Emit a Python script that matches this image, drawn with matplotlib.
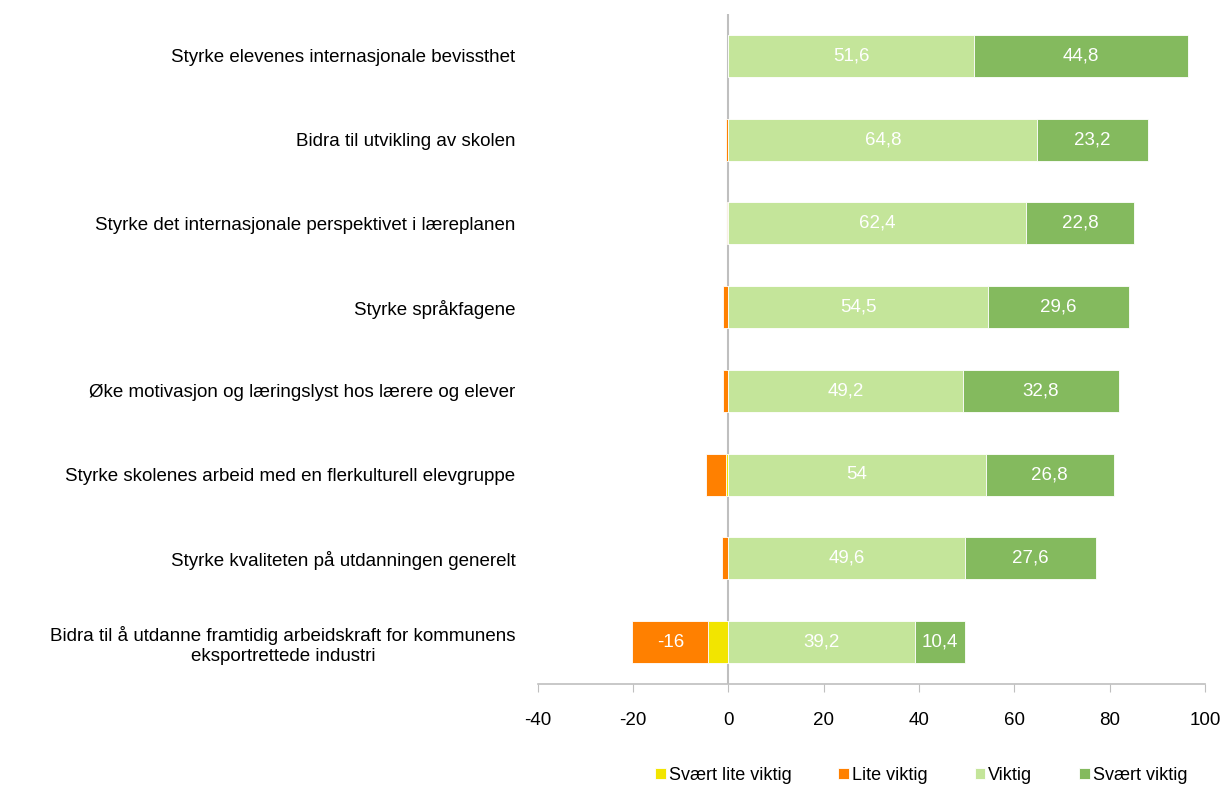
import matplotlib.pyplot as plt
import numpy as np

plt.rcParams['font.family'] = ['Liberation Sans', 'DejaVu Sans']
plt.rcParams['axes.unicode_minus'] = False

categories = [
    'Styrke elevenes internasjonale bevissthet',
    'Bidra til utvikling av skolen',
    'Styrke det internasjonale perspektivet i læreplanen',
    'Styrke språkfagene',
    'Øke motivasjon og læringslyst hos lærere og elever',
    'Styrke skolenes arbeid med en flerkulturell elevgruppe',
    'Styrke kvaliteten på utdanningen generelt',
    'Bidra til å utdanne framtidig arbeidskraft for kommunens\neksportrettede industri',
]
svaert_lite = [0, 0, 0, 0, 0, -0.6, 0, -4.2]
lite = [0, -0.6, -0.4, -1.2, -1.2, -4.0, -1.4, -16]
viktig = [51.6, 64.8, 62.4, 54.5, 49.2, 54, 49.6, 39.2]
svaert = [44.8, 23.2, 22.8, 29.6, 32.8, 26.8, 27.6, 10.4]

c_yellow = '#F2E500'
c_orange = '#FF8000'
c_light = '#C4E59A'
c_dark = '#84BA5E'

def fmt(v):
    if v == int(v):
        return str(int(v))
    return f'{v:.1f}'.replace('.', ',')

fig = plt.figure(figsize=(12.25, 7.85), dpi=100)
ax = fig.add_axes([0.439, 0.1287, 0.5447, 0.8535])

y = np.arange(len(categories))
h = 0.5
sl = np.array(svaert_lite)
li = np.array(lite)
vi = np.array(viktig)
sv = np.array(svaert)

b1 = ax.barh(y, sl, h, color=c_yellow, edgecolor='white', linewidth=0.6, label='Svært lite viktig')
b2 = ax.barh(y, li, h, left=sl, color=c_orange, edgecolor='white', linewidth=0.6, label='Lite viktig')
b3 = ax.barh(y, vi, h, color=c_light, edgecolor='white', linewidth=0.6, label='Viktig')
b4 = ax.barh(y, sv, h, left=vi, color=c_dark, edgecolor='white', linewidth=0.6, label='Svært viktig')

for i in range(len(y)):
    if abs(li[i]) >= 10:
        ax.text(sl[i] + li[i] / 2, y[i], fmt(li[i]), ha='center', va='center', color='white', fontsize=13.5)
    ax.text(vi[i] / 2, y[i], fmt(vi[i]), ha='center', va='center', color='white', fontsize=13.5)
    ax.text(vi[i] + sv[i] / 2, y[i], fmt(sv[i]), ha='center', va='center', color='white', fontsize=13.5)

ax.set_xlim(-40, 100)
ax.set_ylim(len(categories) - 0.5, -0.5)
ax.set_xticks(range(-40, 101, 20))
ax.set_yticks(y)
ax.set_yticklabels(categories, multialignment='center')
ax.tick_params(axis='y', length=0, pad=16, labelsize=13.5, colors='black')
ax.tick_params(axis='x', length=6, color='#BFBFBF', labelsize=13.5, pad=14)
ax.axvline(0, color='#BFBFBF', linewidth=1.5, zorder=0)

for s in ['left', 'right', 'top']:
    ax.spines[s].set_visible(False)
ax.spines['bottom'].set_color('#BFBFBF')
ax.spines['bottom'].set_linewidth(1.2)

fig.legend(handles=[b1, b2, b3, b4], loc='center', bbox_to_anchor=(0.752, 0.012),
           ncol=4, frameon=False, fontsize=13, handlelength=0.6, handleheight=0.6,
           handletextpad=0.15, columnspacing=2.6)

plt.savefig('out.png')
